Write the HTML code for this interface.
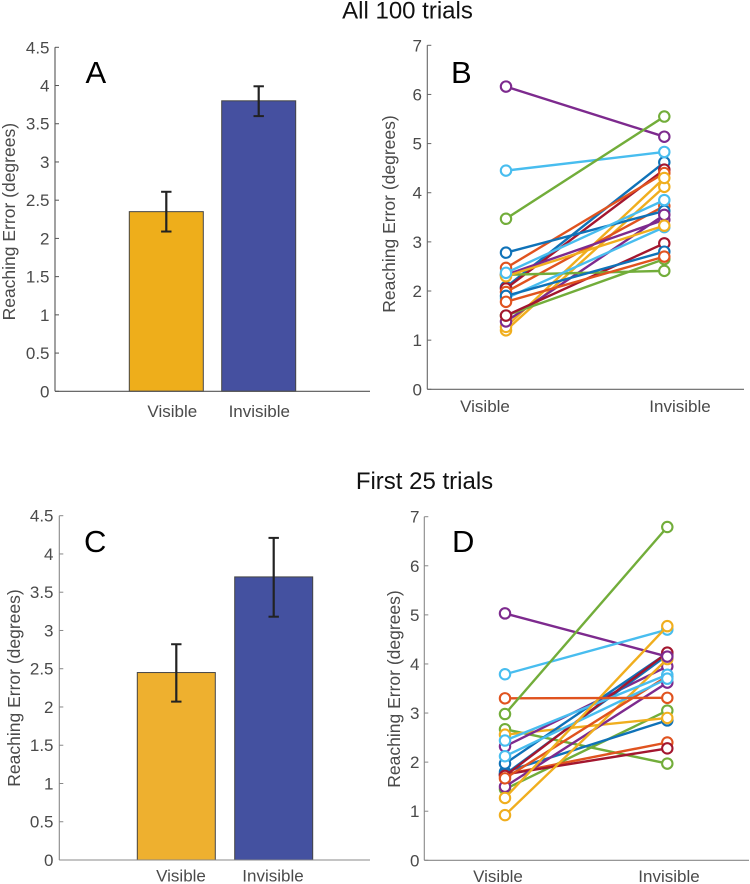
<!DOCTYPE html>
<html>
<head>
<meta charset="utf-8">
<title>Reaching Error by Visibility</title>
<style>
html,body{margin:0;padding:0;background:#fff;}
body{width:750px;height:884px;overflow:hidden;}
svg{display:block;}
text{font-family:"Liberation Sans",sans-serif;}
</style>
</head>
<body>
<svg id="figure" xmlns="http://www.w3.org/2000/svg" width="750" height="884" viewBox="0 0 750 884">
  <rect x="0" y="0" width="750" height="884" fill="#fff"/>
  <text x="407.5" y="18.5" font-size="24" text-anchor="middle" fill="#111">All 100 trials</text>
  <text x="424.5" y="489" font-size="24" text-anchor="middle" fill="#111">First 25 trials</text>
</svg>
<script>
// ---- chart data ----
var barCategories = ["Visible", "Invisible"];
var barTicks = [0, 0.5, 1, 1.5, 2, 2.5, 3, 3.5, 4, 4.5];
var lineTicks = [0, 1, 2, 3, 4, 5, 6, 7];

var panelAMeans = [2.35, 3.80];
var panelALower = [2.09, 3.60];
var panelAUpper = [2.61, 3.99];

var panelCMeans = [2.45, 3.70];
var panelCLower = [2.07, 3.18];
var panelCUpper = [2.82, 4.21];

var panelBVisible = [2.08, 2.05, 2.47, 1.20, 1.27, 1.98, 2.78, 2.33, 1.38, 1.50, 1.50, 2.33, 1.85, 2.30, 1.90, 1.78, 2.37, 6.16, 4.45, 3.47];
var panelBInvisible = [4.62, 4.47, 4.40, 4.12, 4.30, 3.73, 3.63, 3.45, 3.55, 2.65, 2.97, 2.41, 3.30, 3.33, 2.80, 2.70, 3.85, 5.14, 4.83, 5.55];
var panelBGroups = ["blue", "red", "orange", "yellow", "yellow", "orange", "blue", "purple", "purple", "green", "red", "green", "cyan", "yellow", "blue", "orange", "cyan", "purple", "cyan", "green"];

var panelDVisible = [1.45, 2.67, 1.75, 1.75, 1.80, 2.56, 2.32, 1.97, 1.75, 1.72, 1.50, 0.92, 1.67, 2.44, 2.12, 5.03, 3.79, 1.27, 3.30, 2.98];
var panelDInvisible = [3.05, 1.97, 2.40, 2.28, 2.85, 2.90, 3.95, 4.22, 4.18, 4.23, 3.62, 4.10, 3.75, 3.78, 3.70, 4.15, 4.70, 4.77, 3.31, 6.79];
var panelDGroups = ["green", "green", "orange", "red", "blue", "yellow", "purple", "blue", "blue", "red", "purple", "yellow", "orange", "cyan", "cyan", "purple", "cyan", "yellow", "orange", "green"];

// ---- styling ----
var groupColor = {blue:"#0f72b8", orange:"#e0531f", yellow:"#f0ae1e", purple:"#7d2a8e", green:"#72ad3a", cyan:"#48bdef", red:"#a3162f"};
var SVGNS = "http://www.w3.org/2000/svg";
var fig = document.getElementById("figure");

function mk(parent, tag, attrs) {
  var el = document.createElementNS(SVGNS, tag);
  for (var k in attrs) { el.setAttribute(k, attrs[k]); }
  parent.appendChild(el);
  return el;
}

function linearY(maxV, yTop, yZero) {
  return function (v) { return yZero - (v / maxV) * (yZero - yTop); };
}

function drawAxes(g, cfg, ticks, y) {
  var maxV = ticks[ticks.length - 1];
  var yAxis = mk(g, "line", {x1: cfg.axisX, x2: cfg.axisX, y1: y(maxV), y2: y(0), stroke: cfg.axisColor, "stroke-width": 1.1});
  
  
  var xAxis = mk(g, "line", {x1: cfg.axisX, x2: cfg.axisEnd, y1: y(0), y2: y(0), stroke: cfg.axisColor, "stroke-width": 1.1});
  
  
  ticks.forEach(function (t) {
    var tick = mk(g, "line", {x1: cfg.axisX, x2: cfg.axisX + 4, y1: y(t), y2: y(t), stroke: cfg.axisColor, "stroke-width": 1});
    
    
    var label = mk(g, "text", {x: cfg.tickRight, y: y(t) + 6, "font-size": 17, "text-anchor": "end", fill: "#4a4a4a"});
    
    
    label.textContent = String(t);
  });
  var title = mk(g, "text", {x: 0, y: 0, "font-size": 17.5, "text-anchor": "middle", fill: "#4a4a4a", transform: "translate(" + cfg.titleX + "," + cfg.titleY + ") rotate(-90)"});
  
  
  title.textContent = "Reaching Error (degrees)";
  barCategories.forEach(function (c, i) {
    var lab = mk(g, "text", {x: cfg.catX[i], y: cfg.catY, "font-size": 17, "text-anchor": "middle", fill: "#4a4a4a"});
    
    
    lab.textContent = c;
  });
  var letter = mk(g, "text", {x: cfg.letterX, y: cfg.letterY, "font-size": 31, fill: "#000"});
  
  
  letter.textContent = cfg.letter;
}

function drawBarPanel(cfg, means, lower, upper) {
  var g = mk(fig, "g", {});
  
  
  var y = linearY(barTicks[barTicks.length - 1], cfg.yTop, cfg.yZero);
  means.forEach(function (m, i) {
    var bar = mk(g, "rect", {x: cfg.barX[i], y: y(m), width: cfg.barW, height: y(0) - y(m), fill: cfg.barFill[i], stroke: "#444", "stroke-width": 1});
    
    
  });
  drawAxes(g, cfg, barTicks, y);
  means.forEach(function (m, i) {
    var cx = cfg.barX[i] + cfg.barW / 2;
    var stem = mk(g, "line", {x1: cx, x2: cx, y1: y(lower[i]), y2: y(upper[i]), stroke: "#222", "stroke-width": 2.2});
    
    
    [lower[i], upper[i]].forEach(function (v) {
      var cap = mk(g, "line", {x1: cx - 5.2, x2: cx + 5.2, y1: y(v), y2: y(v), stroke: "#222", "stroke-width": 2});
      
      
    });
  });
}

function drawLinePanel(cfg, visible, invisible, groups) {
  var g = mk(fig, "g", {});
  
  
  var y = linearY(lineTicks[lineTicks.length - 1], cfg.yTop, cfg.yZero);
  drawAxes(g, cfg, lineTicks, y);
  visible.forEach(function (v, i) {
    var color = groupColor[groups[i]];
    var w = invisible[i];
    var seg = mk(g, "line", {x1: cfg.ptX[0], x2: cfg.ptX[1], y1: y(v), y2: y(w), stroke: color, "stroke-width": 2.4});
    
    
    var p1 = mk(g, "circle", {cx: cfg.ptX[0], cy: y(v), r: 5.2, fill: "#fff", stroke: color, "stroke-width": 2.1});
    
    
    var p2 = mk(g, "circle", {cx: cfg.ptX[1], cy: y(w), r: 5.2, fill: "#fff", stroke: color, "stroke-width": 2.1});
    
    
  });
}

drawBarPanel({name: "panel-a", letter: "A", axisX: 55, axisEnd: 370, yTop: 47.3, yZero: 391.3, tickRight: 49.5, axisColor: "#555",
  titleX: 15, titleY: 221.7, catX: [172.3, 259.3], catY: 417, letterX: 85.5, letterY: 83,
  barX: [129.3, 221.7], barW: 74, barFill: ["#eeae1b", "#4550a0"]},
  panelAMeans, panelALower, panelAUpper);

drawLinePanel({name: "panel-b", letter: "B", axisX: 427.3, axisEnd: 744, yTop: 45.3, yZero: 389.3, tickRight: 422, axisColor: "#666",
  titleX: 395, titleY: 214, catX: [485, 680], catY: 412, letterX: 451, letterY: 83, ptX: [506, 664.3]},
  panelBVisible, panelBInvisible, panelBGroups);

drawBarPanel({name: "panel-c", letter: "C", axisX: 59.3, axisEnd: 370, yTop: 515.7, yZero: 860, tickRight: 53.5, axisColor: "#888",
  titleX: 20, titleY: 688, catX: [181, 273], catY: 881.5, letterX: 84, letterY: 552,
  barX: [137.3, 234.7], barW: 78, barFill: ["#eeb02f", "#4451a0"]},
  panelCMeans, panelCLower, panelCUpper);

drawLinePanel({name: "panel-d", letter: "D", axisX: 424.3, axisEnd: 749, yTop: 516.7, yZero: 860.3, tickRight: 419.5, axisColor: "#888",
  titleX: 400, titleY: 689, catX: [498, 669], catY: 882, letterX: 452, letterY: 552, ptX: [505, 667.3]},
  panelDVisible, panelDInvisible, panelDGroups);
</script>
</body>
</html>
